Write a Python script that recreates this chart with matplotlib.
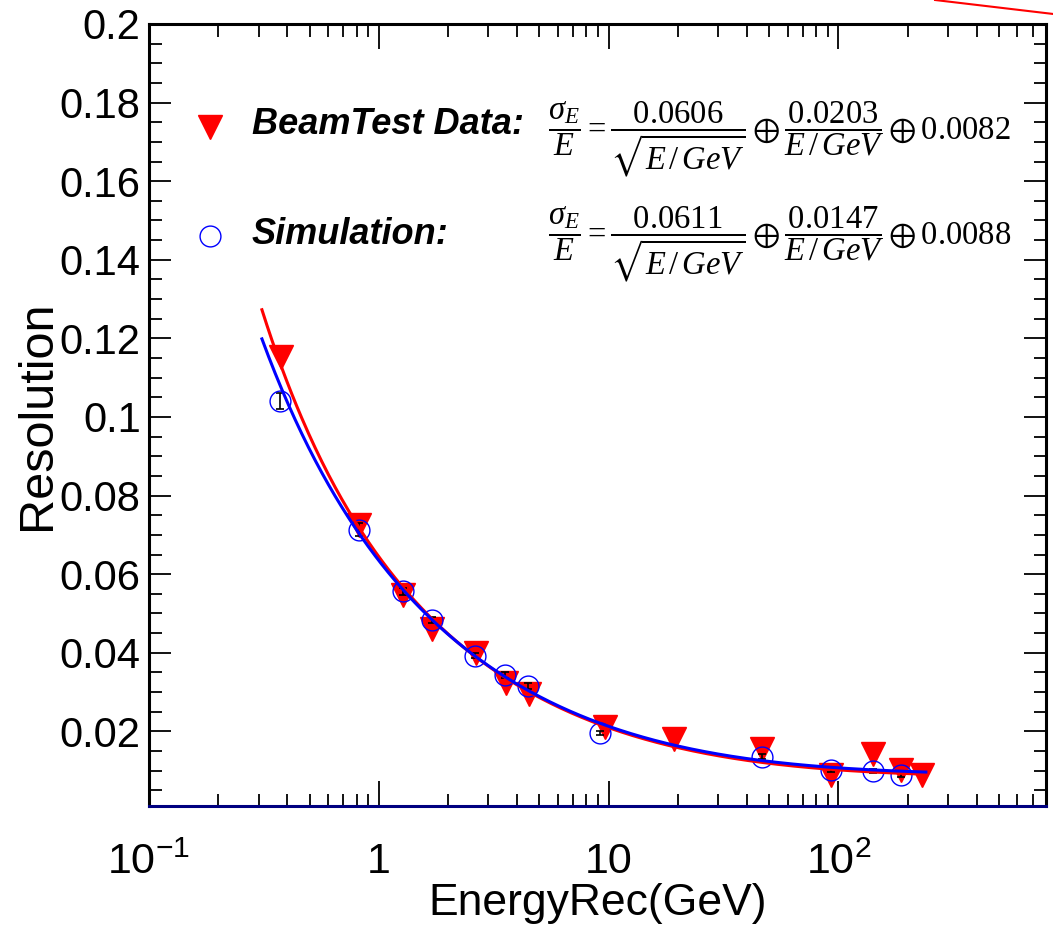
import matplotlib
matplotlib.use("Agg")
import matplotlib.pyplot as plt
from matplotlib.lines import Line2D
from matplotlib.ticker import FixedLocator, NullFormatter
import numpy as np

plt.rcParams["font.family"] = ["Liberation Sans", "DejaVu Sans"]
plt.rcParams["mathtext.fontset"] = "custom"
plt.rcParams["mathtext.rm"] = "Liberation Serif"
plt.rcParams["mathtext.it"] = "Liberation Serif:italic"
plt.rcParams["mathtext.sf"] = "Liberation Sans"
plt.rcParams["mathtext.fallback"] = "stix"

# beam test data (red triangles)
data_e = [0.376, 0.82, 1.28, 1.70, 2.65, 3.58, 4.48, 9.6, 19.2, 46.6, 93.0, 140.6, 187.0, 231.7]
data_res = [0.1153, 0.0725, 0.0546, 0.0460, 0.0400, 0.0322, 0.0296, 0.0211, 0.0180, 0.0156,
            0.0088, 0.0143, 0.0101, 0.0088]

# simulation (blue open circles)
sim_e = [0.371, 0.82, 1.27, 1.71, 2.63, 3.55, 4.47, 9.14, 46.6, 93.2, 141.4, 187.0]
sim_res = [0.1040, 0.0713, 0.0557, 0.0483, 0.0393, 0.0343, 0.0315, 0.0196, 0.0136, 0.0102,
           0.0099, 0.0088]
sim_err = [0.0020, 0.0016, 0.0009, 0.0008, 0.0007, 0.0007, 0.0007, 0.0006, 0.0006, 0.0005,
           0.0005, 0.0005]

# fit parameters (stochastic, noise, constant)
data_fit = (0.0606, 0.0203, 0.0082)
sim_fit = (0.0611, 0.0147, 0.0088)
fit_range = (0.31, 240.0)


def resolution(e, a, b, c):
    return np.sqrt((a / np.sqrt(e)) ** 2 + (b / e) ** 2 + c ** 2)


fig = plt.figure(figsize=(10.53, 9.30), dpi=100)
ax = fig.add_axes([0.1415, 0.1333, 0.8519, 0.8409])

ax.plot(data_e, data_res, ls="none", marker="v", ms=17, color="red", mec="red", zorder=3)
ax.errorbar(sim_e, sim_res, yerr=sim_err, fmt="none", ecolor="black", elinewidth=1.2,
            capsize=3, capthick=1.2, zorder=4)
ax.plot(sim_e, sim_res, ls="none", marker="o", ms=15, mfc="none", mec="blue", mew=1.0, zorder=4)

ee = np.logspace(np.log10(fit_range[0]), np.log10(fit_range[1]), 400)
ax.plot(ee, resolution(ee, *data_fit), color="red", lw=2.2, zorder=5)
ax.plot(ee, resolution(ee, *sim_fit), color="blue", lw=2.2, zorder=6)

ax.set_xscale("log")
ax.set_xlim(0.1, 800)
ax.set_ylim(0.001, 0.2)

ax.xaxis.set_major_locator(FixedLocator([0.1, 1, 10, 100]))
ax.set_xticklabels([r"$\mathsf{10^{-1}}$", "1", "10", r"$\mathsf{10^{2}}$"])
minor_x = [m * 10.0 ** d for d in (-1, 0, 1, 2) for m in range(2, 10) if m * 10.0 ** d < 800]
ax.xaxis.set_minor_locator(FixedLocator(minor_x))
ax.xaxis.set_minor_formatter(NullFormatter())

ax.set_yticks(np.arange(0.02, 0.201, 0.02))
ax.set_yticklabels(["0.02", "0.04", "0.06", "0.08", "0.1", "0.12", "0.14", "0.16", "0.18", "0.2"])
ax.yaxis.set_minor_locator(FixedLocator(np.arange(0.005, 0.2, 0.005)))

ax.tick_params(which="both", direction="in", top=True, right=True, width=1.3, colors="black")
ax.tick_params(axis="x", which="major", length=18, labelsize=31, pad=26)
ax.tick_params(axis="x", which="minor", length=9)
ax.tick_params(axis="y", which="major", length=16, labelsize=30, pad=6)
ax.tick_params(axis="y", which="minor", length=9)

for s in ax.spines.values():
    s.set_linewidth(2.2)
ax.spines["bottom"].set_color("#000080")

ax.set_xlabel("EnergyRec(GeV)", fontsize=32, labelpad=0)
ax.set_ylabel("Resolution", fontsize=35, labelpad=0)

# legend block
ax.plot([0.068], [0.868], marker="v", ms=17, color="red", transform=ax.transAxes, clip_on=False)
ax.plot([0.068], [0.729], marker="o", ms=15, mfc="none", mec="blue", mew=1.0,
        transform=ax.transAxes, clip_on=False)
ax.text(0.1148, 0.872, "BeamTest Data:", transform=ax.transAxes, fontsize=26,
        fontweight="bold", fontstyle="italic", va="center", ha="left")
ax.text(0.1148, 0.731, "Simulation:", transform=ax.transAxes, fontsize=26,
        fontweight="bold", fontstyle="italic", va="center", ha="left")

f1 = (r"$\dfrac{\sigma_E}{E} = \dfrac{%.4f}{\sqrt{E\,/\,GeV}} \oplus \dfrac{%.4f}{E\,/\,GeV}"
      r" \oplus %.4f$" % data_fit)
f2 = (r"$\dfrac{\sigma_E}{E} = \dfrac{%.4f}{\sqrt{E\,/\,GeV}} \oplus \dfrac{%.4f}{E\,/\,GeV}"
      r" \oplus %.4f$" % sim_fit)
ax.text(0.445, 0.852, f1, transform=ax.transAxes, fontsize=23.5, va="center", ha="left")
ax.text(0.445, 0.717, f2, transform=ax.transAxes, fontsize=23.5, va="center", ha="left")

# stray red line at the top right corner
fig.add_artist(Line2D([0.888, 1.0], [1.0, 0.985], color="red", lw=1.5))

fig.savefig("out.png", dpi=100)
